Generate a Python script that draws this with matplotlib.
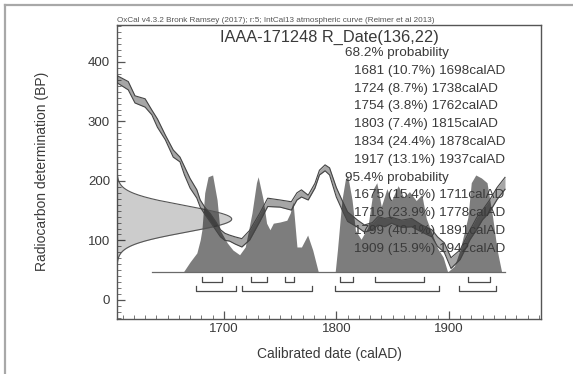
import numpy as np
import matplotlib
matplotlib.use("Agg")
import matplotlib.pyplot as plt
from matplotlib.ticker import MultipleLocator

plt.rcParams["font.family"] = ["Liberation Sans", "DejaVu Sans"]

W, H, DPI = 573, 374, 100
TXT = "#3a3a3a"

# IntCal13 band: calendar year, centre (BP), half-width (BP)
curve_year = [1605, 1615, 1621, 1630, 1636, 1641, 1648, 1655, 1661, 1665,
              1670, 1676, 1679, 1683, 1688, 1693, 1697, 1701, 1705, 1710,
              1716, 1723, 1732, 1739, 1750, 1760, 1765, 1769, 1775, 1781,
              1785, 1790, 1794, 1800, 1805, 1810, 1819, 1825, 1832, 1837,
              1843, 1849, 1858, 1867, 1876, 1885, 1890, 1896, 1902, 1910,
              1919, 1925, 1930, 1936, 1943, 1950]
curve_bp = [371, 360, 337, 331, 315, 297, 273, 246, 236, 217,
            196, 178, 162, 150, 138, 124, 112, 106, 104, 100,
            96, 109, 139, 164, 162, 158, 174, 179, 172, 192,
            214, 222, 216, 181, 160, 140, 128, 120, 124, 133,
            130, 134, 128, 130, 120, 112, 98, 88, 62, 76,
            110, 129, 143, 157, 179, 196]
curve_err = [6, 7, 6, 7, 4, 7, 4, 6, 4, 7,
             8, 7, 6, 6, 7, 7, 6, 6, 5, 6,
             7, 8, 7, 7, 6, 7, 6, 6, 4, 4,
             4, 5, 6, 8, 8, 8, 6, 6, 6, 7,
             7, 5, 6, 7, 6, 6, 8, 8, 9, 8,
             8, 10, 8, 10, 10, 10]

# calibrated probability, drawn as height (BP units) above the baseline
dist_year = [1664, 1670, 1676, 1679, 1680.5, 1683, 1686, 1690, 1694, 1696.5,
             1703, 1708, 1714, 1719, 1725, 1729, 1730.5, 1735, 1738, 1741,
             1744, 1750, 1756, 1759, 1761.5, 1765, 1769, 1774.5, 1779, 1784,
             1799, 1801, 1805, 1808, 1810, 1814, 1817, 1822, 1828, 1833,
             1836, 1840, 1845, 1849, 1855, 1860, 1865, 1871, 1876, 1880,
             1886, 1890, 1895, 1899, 1905, 1910, 1917, 1920, 1924, 1929,
             1934, 1939, 1943, 1947]
dist_height = [0, 17, 32, 54, 71, 133, 160, 163, 121, 71,
               49, 37, 29, 42, 99, 150, 160, 121, 82, 71,
               82, 84, 87, 99, 118, 42, 42, 62, 37, 0,
               0, 37, 121, 155, 163, 121, 70, 55, 75, 140,
               150, 110, 140, 120, 145, 125, 135, 120, 130, 90,
               60, 40, 25, 0, 10, 37, 92, 150, 163, 158,
               150, 92, 37, 0]
dist_base = 47
base_span = (1636, 1950)

date_label = "IAAA-171248 R_Date(136,22)"
date_mean, date_sigma = 136, 22
date_peak = 102  # width of the BP profile, in years

ranges_68 = [(1681, 1698), (1724, 1738), (1754, 1762), (1803, 1815),
             (1834, 1878), (1917, 1937)]
pct_68 = ["10.7", "8.7", "3.8", "7.4", "24.4", "13.1"]
ranges_95 = [(1675, 1711), (1716, 1778), (1799, 1891), (1909, 1942)]
pct_95 = ["15.4", "23.9", "40.1", "15.9"]

header = ("OxCal v4.3.2 Bronk Ramsey (2017); r:5; "
          "IntCal13 atmospheric curve (Reimer et al 2013)")


def fx(px):
    return px / W


def fy(py):
    return 1 - py / H


fig = plt.figure(figsize=(W / DPI, H / DPI), dpi=DPI)
ax = fig.add_axes([fx(117), fy(319), (541 - 117) / W, (319 - 25) / H])
ax.set_xlim(1605, 1982)
ax.set_ylim(-32, 462)

# calibrated distribution
dy = np.array(dist_year)
dh = np.array(dist_height)
ax.fill_between(dy, dist_base, dist_base + dh, color="#7d7d7d", lw=0, zorder=2)
ax.plot(base_span, [dist_base, dist_base], color="#6a6a6a", lw=0.9, zorder=2)

# radiocarbon measurement on the y axis
bp = np.linspace(date_mean - 5 * date_sigma, date_mean + 5 * date_sigma, 300)
prof = 1605 + date_peak * np.exp(-0.5 * ((bp - date_mean) / date_sigma) ** 2)
ax.fill_betweenx(bp, 1605, prof, color="black", alpha=0.2, lw=0, zorder=3)
ax.plot(prof, bp, color="#555555", lw=0.8, zorder=3)

# calibration curve band
cy = np.array(curve_year)
cb = np.array(curve_bp)
ce = np.array(curve_err)
ax.fill_between(cy, cb - ce, cb + ce, color="black", alpha=0.35, lw=0, zorder=4)
ax.plot(cy, cb + ce, color="#444444", lw=0.8, zorder=4)
ax.plot(cy, cb - ce, color="#444444", lw=0.8, zorder=4)

# HPD range brackets
for rows, top, bot in ((ranges_68, 38.5, 30), (ranges_95, 23, 14.5)):
    for a, b in rows:
        ax.plot([a, a, b, b], [top, bot, bot, top], color="#4a4a4a", lw=0.9,
                zorder=5)

ax.xaxis.set_major_locator(MultipleLocator(100))
ax.xaxis.set_minor_locator(MultipleLocator(10))
ax.yaxis.set_major_locator(MultipleLocator(100))
ax.yaxis.set_minor_locator(MultipleLocator(10))
ax.set_yticks([0, 100, 200, 300, 400])
ax.tick_params(which="major", direction="in", length=6, width=0.9,
               color="#555555", labelsize=9.5, labelcolor=TXT, pad=3)
ax.tick_params(which="minor", direction="in", length=3, width=0.7,
               color="#777777")
ax.tick_params(axis="y", which="major", pad=5)
for s in ax.spines.values():
    s.set_color("#555555")
    s.set_linewidth(1.0)

fig.text(fx(117), fy(20), header, fontsize=5.85, color="#555555",
         ha="left", va="center")
fig.text(fx(329), fy(37), date_label, fontsize=11.8, color=TXT,
         ha="center", va="center")

lines = [("68.2% probability", 345)]
lines += [(f"{a} ({p}%) {b}calAD", 354) for (a, b), p in zip(ranges_68, pct_68)]
lines += [("95.4% probability", 345)]
lines += [(f"{a} ({p}%) {b}calAD", 354) for (a, b), p in zip(ranges_95, pct_95)]
for i, (s, px) in enumerate(lines):
    fig.text(fx(px), fy(53 + 17.8 * i), s, fontsize=9.7, color=TXT,
             ha="left", va="center", zorder=10)

fig.text(fx(329), fy(354), "Calibrated date (calAD)", fontsize=10,
         color=TXT, ha="center", va="center")
fig.text(fx(42), fy(171), "Radiocarbon determination (BP)", fontsize=10,
         color=TXT, ha="center", va="center", rotation=90)

# page frame
fig.add_artist(plt.Line2D([fx(5), fx(5)], [fy(5), 0], color="#a8a8a8", lw=1.6))
fig.add_artist(plt.Line2D([fx(5), 1], [fy(5), fy(5)], color="#a8a8a8", lw=1.6))

fig.savefig("out.png", dpi=DPI)
